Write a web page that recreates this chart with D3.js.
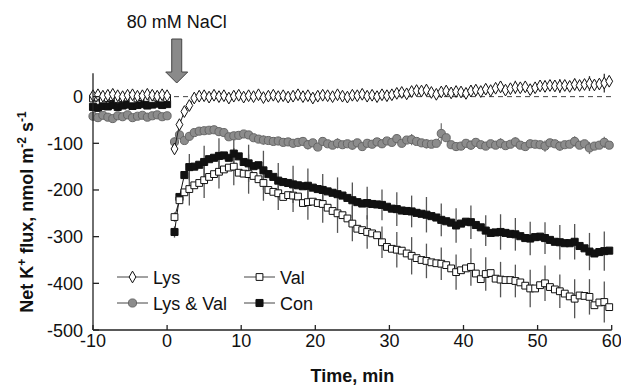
<!DOCTYPE html>
<html>
<head>
<meta charset="utf-8">
<script src="https://cdn.jsdelivr.net/npm/d3@7"></script>
<style>
  body { margin: 0; background: #fff; }
  svg text { font-family: "Liberation Sans", Arial, sans-serif; fill: #111; }
</style>
</head>
<body>
<svg id="chart" width="621" height="385"></svg>
<script>
// ---------------------------------------------------------------------------
// Data. Samples every 2/3 min; error bars every 3rd point.
// ---------------------------------------------------------------------------
var PRE_START = -10, POST_START = 1, STEP = 2 / 3, ERR_EVERY = 3;

var xTicks = [-10, 0, 10, 20, 30, 40, 50, 60];
var yTicks = [0, -100, -200, -300, -400, -500];

var lysPre = [2, 4, 1, 3, 5, 2, 0, 3, 4, 1, 2, 5, 3, 1, 4, 2];
var lysPost = [-112, -60, -32, -19, -3, 1,
  2, -1, 3, 0, 2, -3, 1, 3, -1, 2, 0, 4, -2, 1, 3, 0, 2, -1, 1, 4,
  0, 2, -3, 1, 3, 2, 0, 4, 1, -1, 3, 2, 5, 1, 3, 0, 4, 2,
  4, 7, 9, 6, 11, 13, 12, 14, 9, 5, 10, 12, 8, 11, 10, 7, 12, 14, 11, 16,
  13, 18, 21, 14, 17, 20, 19, 21, 15, 19, 23, 22, 24, 23, 23, 24, 22, 26, 24, 26,
  28, 25, 27, 29, 33];
var lysErrPre = [4, 5, 3, 6, 4, 5];
var lysErr = [8, 6, 5, 6, 5, 7, 6, 5, 7, 6, 8, 7, 6, 8, 9, 7, 10, 12, 9, 11,
  13, 10, 12, 14, 11, 12, 15, 13, 16, 20];

var lysValPre = [-42, -45, -40, -44, -47, -41, -43, -39, -45, -42, -40, -44, -41, -39, -43, -41];
var lysValPost = [-97, -82, -94, -85, -77, -74, -73, -72, -71, -75, -77, -86, -84, -83,
  -80, -82, -88, -91, -93, -94, -96, -95, -98, -97, -100, -98, -96,
  -103, -99, -108, -96, -101, -104, -100, -103, -101, -104,
  -99, -107, -100, -102, -97, -101, -95, -98, -90, -100,
  -93, -92, -96, -99, -101, -102, -100, -79, -88, -103,
  -107, -106, -100, -104, -98, -103, -106, -101, -104, -100,
  -105, -102, -97, -104, -107, -101, -102, -103, -106, -99,
  -101, -106, -103, -102, -96, -104, -101, -110, -106, -104,
  -98, -104];
var lysValErrPre = [6, 5, 7, 5, 6, 5];
var lysValErr = [10, 9, 7, 8, 9, 8, 10, 9, 8, 10, 9, 11, 10, 8, 9, 10, 12, 10, 22, 9,
  10, 8, 11, 10, 9, 12, 10, 11, 13, 12];

var valPre = [-4, -2, -6, -3, -1, -5, -3, -2, -6, -4, -1, -3, -5, -2, -4, -3];
var valPost = [-258, -222, -205, -198, -190, -185, -179, -172, -166, -161, -156, -152, -150,
  -163, -165, -166, -170, -177, -185, -200, -204, -207, -215, -211, -212, -214, -228,
  -226, -225, -228, -230, -238, -245, -250, -254, -261, -272, -283, -286, -290, -293,
  -297, -312, -322, -326, -328, -330, -336, -341, -346, -350, -352, -355, -357, -358,
  -361, -368, -376, -372, -368, -365, -379, -391, -380, -378, -390, -392, -393, -393,
  -395, -398, -405, -411, -411, -404, -400, -408, -413, -417, -422, -428, -433, -426,
  -427, -429, -447, -441, -440, -451];
var valErrPre = [5, 6, 4, 5, 6, 5];
var valErr = [10, 35, 38, 36, 40, 42, 38, 36, 35, 38, 40, 42, 38, 36, 34, 38, 40, 37, 35, 38,
  40, 36, 38, 35, 40, 38, 36, 42, 38, 44];

var conPre = [-22, -24, -20, -21, -18, -22, -19, -17, -20, -18, -16, -19, -17, -15, -18, -16];
var conPost = [-290, -215, -168, -151, -150, -146, -140, -134, -131, -127, -126, -131, -122,
  -128, -140, -143, -149, -147, -158, -166, -172, -180, -183, -185, -188, -190, -192,
  -191, -195, -198, -200, -203, -206, -209, -212, -217, -222, -226, -229, -228, -230,
  -231, -232, -236, -240, -241, -244, -245, -246, -249, -251, -253, -256, -259, -264,
  -267, -270, -276, -272, -268, -269, -275, -280, -287, -292, -291, -290, -292, -294,
  -295, -299, -303, -304, -301, -300, -303, -307, -311, -312, -314, -314, -311, -320,
  -325, -332, -336, -333, -331, -330];
var conErrPre = [5, 6, 5, 7, 5, 6];
var conErr = [12, 28, 35, 38, 36, 40, 42, 38, 40, 37, 34, 36, 38, 35, 33, 36, 34, 38, 35, 37,
  36, 33, 38, 35, 36, 34, 37, 38, 40, 42];

var ARROW_TIME = 1.3;

// ---------------------------------------------------------------------------
// Chart
// ---------------------------------------------------------------------------
var svg = d3.select("#chart");

var xScale = d3.scaleLinear().domain([-10, 60]).range([93, 611.7]);
var yScale = d3.scaleLinear().domain([-500, 50]).range([330, 73.3]);

var series = [
  {name: "Con", pre: conPre, post: conPost, errPre: conErrPre, err: conErr,
   symbol: d3.symbolSquare, size: 50, fill: "#111", stroke: "#111", line: "#111", bar: "#555"},
  {name: "Val", pre: valPre, post: valPost, errPre: valErrPre, err: valErr,
   symbol: d3.symbolSquare, size: 46, fill: "#fff", stroke: "#111", line: "#222", bar: "#555"},
  {name: "Lys & Val", pre: lysValPre, post: lysValPost, errPre: lysValErrPre, err: lysValErr,
   symbol: d3.symbolCircle, size: 52, fill: "#8c8c8c", stroke: "#666", line: "#777", bar: "#777"},
  {name: "Lys", pre: lysPre, post: lysPost, errPre: lysErrPre, err: lysErr,
   symbol: d3.symbolDiamond, size: 40, fill: "#fff", stroke: "#111", line: "#222", bar: "#333"}
];

function toPoints(values, start) {
  return values.map(function(v, i) { return {t: start + i * STEP, v: v}; });
}

// zero line
svg.append("line")
    .attr("x1", xScale(-10)).attr("x2", xScale(60))
    .attr("y1", yScale(0)).attr("y2", yScale(0))
    .attr("stroke", "#444").attr("stroke-width", 1)
    .attr("stroke-dasharray", "5,4");

var line = d3.line()
    .x(function(d) { return xScale(d.t); })
    .y(function(d) { return yScale(d.v); });

// error bars first
series.forEach(function(s) {
  var bars = [];
  [[s.pre, s.errPre, PRE_START], [s.post, s.err, POST_START]].forEach(function(part) {
    part[1].forEach(function(e, k) {
      var i = k * ERR_EVERY;
      if (i < part[0].length) bars.push({t: part[2] + i * STEP, v: part[0][i], e: e});
    });
  });
  svg.append("g").selectAll("line").data(bars).enter().append("line")
      .attr("x1", function(d) { return xScale(d.t); })
      .attr("x2", function(d) { return xScale(d.t); })
      .attr("y1", function(d) { return yScale(d.v + d.e); })
      .attr("y2", function(d) { return yScale(d.v - d.e); })
      .attr("stroke", s.bar).attr("stroke-width", 1.3);
});

// lines and markers
series.forEach(function(s) {
  var g = svg.append("g");
  var parts = [toPoints(s.pre, PRE_START), toPoints(s.post, POST_START)];
  parts.forEach(function(pts) {
    g.append("path").datum(pts)
        .attr("d", line).attr("fill", "none")
        .attr("stroke", s.line).attr("stroke-width", 1);
  });
  var sym = d3.symbol().type(s.symbol).size(s.size);
  g.selectAll("path.pt").data(parts[0].concat(parts[1])).enter().append("path")
      .attr("class", "pt")
      .attr("transform", function(d) { return "translate(" + xScale(d.t) + "," + yScale(d.v) + ")"; })
      .attr("d", sym)
      .attr("fill", s.fill).attr("stroke", s.stroke).attr("stroke-width", 1);
});

// axes
var axisColor = "#222";
svg.append("line")
    .attr("x1", xScale(-10)).attr("x2", xScale(-10))
    .attr("y1", yScale(50)).attr("y2", yScale(-500))
    .attr("stroke", axisColor).attr("stroke-width", 1.3);
svg.append("line")
    .attr("x1", xScale(-10)).attr("x2", xScale(60))
    .attr("y1", yScale(-500)).attr("y2", yScale(-500))
    .attr("stroke", axisColor).attr("stroke-width", 1.3);

svg.append("g").selectAll("line").data(yTicks).enter().append("line")
    .attr("x1", xScale(-10)).attr("x2", xScale(-10) + 6)
    .attr("y1", function(d) { return yScale(d); })
    .attr("y2", function(d) { return yScale(d); })
    .attr("stroke", axisColor).attr("stroke-width", 1.3);
svg.append("g").selectAll("text").data(yTicks).enter().append("text")
    .attr("x", xScale(-10) - 10)
    .attr("y", function(d) { return yScale(d) + 6.5; })
    .attr("text-anchor", "end").attr("font-size", 18)
    .text(function(d) { return d; });

svg.append("g").selectAll("line").data(xTicks).enter().append("line")
    .attr("x1", function(d) { return xScale(d); })
    .attr("x2", function(d) { return xScale(d); })
    .attr("y1", yScale(-500)).attr("y2", yScale(-500) - 5)
    .attr("stroke", axisColor).attr("stroke-width", 1.3);
svg.append("g").selectAll("text").data(xTicks).enter().append("text")
    .attr("x", function(d) { return xScale(d); })
    .attr("y", 347)
    .attr("text-anchor", "middle").attr("font-size", 18)
    .text(function(d) { return d; });

// axis titles
svg.append("text")
    .attr("x", (xScale(-10) + xScale(60)) / 2).attr("y", 382)
    .attr("text-anchor", "middle").attr("font-size", 18).attr("font-weight", "bold")
    .text("Time, min");

var yTitle = svg.append("text")
    .attr("transform", "translate(33,212) rotate(-90)")
    .attr("text-anchor", "middle").attr("font-size", 18).attr("font-weight", "bold");
yTitle.append("tspan").text("Net K");
yTitle.append("tspan").attr("dy", -7).attr("font-size", 12).text("+");
yTitle.append("tspan").attr("dy", 7).text(" flux, nmol m");
yTitle.append("tspan").attr("dy", -7).attr("font-size", 12).text("-2");
yTitle.append("tspan").attr("dy", 7).text(" s");
yTitle.append("tspan").attr("dy", -7).attr("font-size", 12).text("-1");

// NaCl arrow
var ax = xScale(ARROW_TIME);
svg.append("path")
    .attr("d", "M" + (ax - 5) + ",39 L" + (ax + 5) + ",39 L" + (ax + 5) + ",72 L" + (ax + 11) + ",72 L" +
      ax + ",83 L" + (ax - 11) + ",72 L" + (ax - 5) + ",72 Z")
    .attr("fill", "#8a8a8a").attr("stroke", "#444").attr("stroke-width", 1);
svg.append("text")
    .attr("x", ax).attr("y", 28)
    .attr("text-anchor", "middle").attr("font-size", 18)
    .text("80 mM NaCl");

// legend
var legendItems = [
  {s: series[3], x: 117, y: 277},
  {s: series[2], x: 117, y: 303},
  {s: series[1], x: 244, y: 277},
  {s: series[0], x: 244, y: 303}
];
var lg = svg.append("g").selectAll("g").data(legendItems).enter().append("g")
    .attr("transform", function(d) { return "translate(" + d.x + "," + d.y + ")"; });
lg.append("line")
    .attr("x1", 0).attr("x2", 31).attr("y1", 0).attr("y2", 0)
    .attr("stroke", "#444").attr("stroke-width", 1);
lg.append("path")
    .attr("transform", "translate(15.5,0)")
    .attr("d", function(d) { return d3.symbol().type(d.s.symbol).size(d.s.size)(); })
    .attr("fill", function(d) { return d.s.fill; })
    .attr("stroke", function(d) { return d.s.stroke; });
lg.append("text")
    .attr("x", 36).attr("y", 6.5).attr("font-size", 18)
    .text(function(d) { return d.s.name; });
</script>
</body>
</html>
